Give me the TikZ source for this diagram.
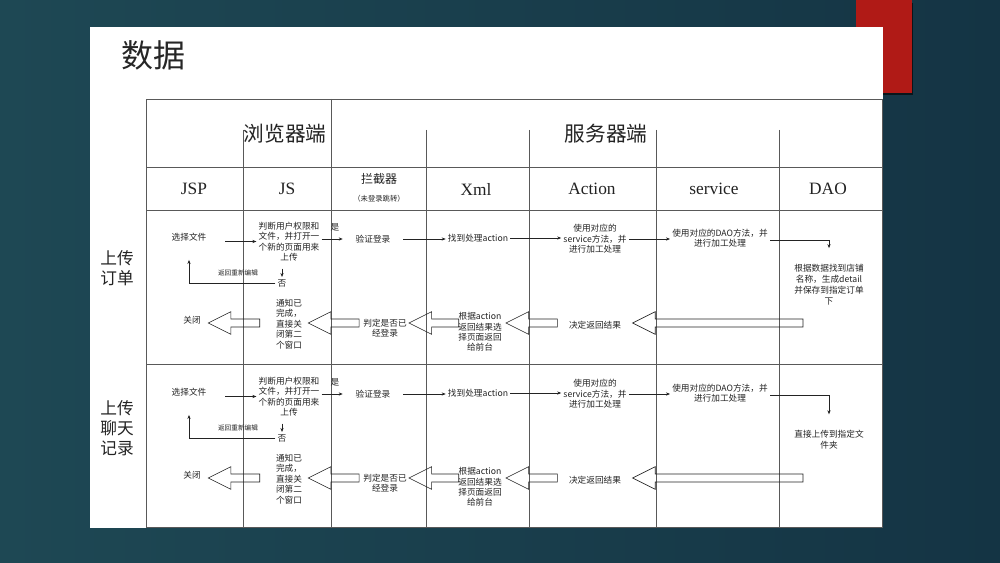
\documentclass[tikz,border=0pt]{standalone}
\usepackage{fontspec}
\setmainfont{Noto Sans CJK SC}
\newfontfamily\hdfont{Liberation Serif}
\usetikzlibrary{arrows.meta,calc}

\definecolor{slidebg}{RGB}{30,72,84}
\definecolor{slidemid}{RGB}{40,88,95}
\definecolor{slidedark}{RGB}{20,52,68}
\definecolor{slidered}{RGB}{176,26,22}
\definecolor{ink}{RGB}{35,35,35}

\tikzset{
  grid/.style={draw=black!65, line width=0.5pt},
  cell/.style={font=\fontsize{6.5}{7.8}\selectfont, text=ink, align=center, inner sep=1.5pt},
  head/.style={font=\hdfont\fontsize{13}{14}\selectfont, text=ink},
  flow/.style={draw=ink, line width=0.45pt, -{Stealth[length=3pt,width=2.4pt]}},
  hollow/.style={draw=ink, line width=0.45pt},
}

% hollow arrow pointing left, tail -> tip, at the height of the tail
\newcommand\backarrow[2]{%
  \draw[hollow] let \p1=(#1), \p2=(#2) in
    (\x1,\y1+3pt) -- (\x2+17pt,\y1+3pt) -- (\x2+17pt,\y1+8.5pt) -- (\x2,\y1)
    -- (\x2+17pt,\y1-8.5pt) -- (\x2+17pt,\y1-3pt) -- (\x1,\y1-3pt) -- cycle;}

\begin{document}
\begin{tikzpicture}[x=0.75pt, y=-0.75pt]
  % slide
  \shade[left color=slidebg, middle color=slidemid, right color=slidedark] (0,0) rectangle (1000,563);
  \fill[black!60!slidedark] (857,3) rectangle (913,95.5);
  \fill[slidered] (856,0) rectangle (912,93);
  \fill[white] (90,27) rectangle (883,528);
  \node[font=\fontsize{24}{24}\selectfont, text=black!85] (title) at (153,55) {数据};

  % table
  \draw[grid] (146,99) rectangle (882,527);
  \foreach \y in {167,210,364}
    \draw[grid] (146,\y) -- (882,\y);
  \draw[grid] (331,99) -- (331,527);
  \foreach \x in {243,426,529,656,779}
    \draw[grid] (\x,130) -- (\x,527);

  \node[font=\fontsize{15.5}{16}\selectfont, text=ink] (browser) at (285,134) {浏览器端};
  \node[font=\fontsize{15.5}{16}\selectfont, text=ink] (server) at (606,134) {服务器端};
  \node[head] (jsp) at (194,189) {JSP};
  \node[head] (js) at (287,189) {JS};
  \node[font=\fontsize{9}{9}\selectfont, text=ink] (filter) at (379,179) {拦截器};
  \node[font=\fontsize{5.5}{6}\selectfont, text=ink] (filternote) at (379,199) {（未登录跳转）};
  \node[head] (xml) at (476,189) {Xml};
  \node[head] (action) at (592,189) {Action};
  \node[head] (service) at (714,189) {service};
  \node[head] (dao) at (828,189) {DAO};

  % the two upload flows
  \foreach \s/\dy/\ly/\lbl/\daotxt in {%
      1/0/268/{上传\\订单}/{根据数据找到店铺\\名称，生成detail\\并保存到指定订单\\下},
      2/155/428/{上传\\聊天\\记录}/{直接上传到指定文\\件夹}} {
    \node[font=\fontsize{12.5}{15}\selectfont, text=ink, align=center] (task\s) at (117,\ly) {\lbl};

    \node[cell] (sel\s) at (189,237+\dy) {选择文件};
    \node[cell] (judge\s) at (289,241.5+\dy) {判断用户权限和\\文件，并打开一\\个新的页面用来\\上传};
    \node[cell] (yes\s) at (335,227+\dy) {是};
    \node[cell] (verify\s) at (373,239+\dy) {验证登录};
    \node[cell] (find\s) at (478,238+\dy) {找到处理action};
    \node[cell] (svc\s) at (595,239+\dy) {使用对应的\\service方法，并\\进行加工处理};
    \node[cell] (dao\s) at (720,238+\dy) {使用对应的DAO方法，并\\进行加工处理};
    \node[cell, font=\fontsize{6.5}{8.4}\selectfont] (save\s) at (829,284.5+\dy) {\daotxt};
    \node[cell] (no\s) at (282,283+\dy) {否};
    \node[cell, font=\fontsize{5}{5}\selectfont] (redo\s) at (238,273+\dy) {返回重新编辑};

    \node[cell] (close\s) at (192,320+\dy) {关闭};
    \node[cell] (notify\s) at (289,324+\dy) {通知已\\完成，\\直接关\\闭第二\\个窗口};
    \node[cell] (check\s) at (385,328+\dy) {判定是否已\\经登录};
    \node[cell] (choose\s) at (480,332+\dy) {根据action\\返回结果选\\择页面返回\\给前台};
    \node[cell] (decide\s) at (595,325+\dy) {决定返回结果};
    \coordinate (tail\s) at (803,323+\dy);

    % forward
    \draw[flow] ([xshift=12.5pt]sel\s.east |- judge\s.west) -- (judge\s.west);
    \draw[flow, shorten >=8pt] (judge\s.east |- verify\s.west) -- (verify\s.west);
    \draw[flow, shorten <=8pt] (verify\s.east) -- (verify\s.east -| find\s.west);
    \draw[flow] (find\s.east) -- (find\s.east -| svc\s.west);
    \draw[flow] (svc\s.east) -- (svc\s.east -| dao\s.west);
    \draw[flow, shorten >=10pt] ([yshift=-2pt]dao\s.east) -| (save\s.north);
    \draw[flow] ([yshift=-4pt]no\s.north |- judge\s.south) -- (no\s.north);
    \draw[flow, shorten >=12.5pt] (no\s.west) -| (sel\s.south);

    % back
    \backarrow{tail\s}{[xshift=7pt]decide\s.east}
    \backarrow{[xshift=-7pt]decide\s.west |- tail\s}{[xshift=1.5pt]choose\s.east}
    \backarrow{[xshift=2pt]choose\s.west |- tail\s}{check\s.east}
    \backarrow{[xshift=-1.5pt]check\s.west |- tail\s}{[xshift=3pt]notify\s.east}
    \backarrow{[xshift=-10.5pt]notify\s.west |- tail\s}{[xshift=4pt]close\s.east}
  }
\end{tikzpicture}
\end{document}
